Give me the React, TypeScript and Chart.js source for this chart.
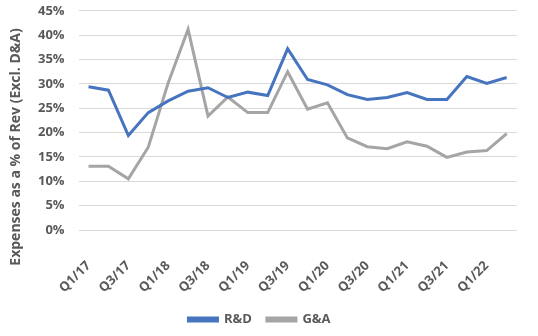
import React, { useEffect, useRef } from "react";
import { Chart, registerables } from "chart.js";

Chart.register(...registerables);

const quarters = [
  "Q1/17", "Q2/17", "Q3/17", "Q4/17",
  "Q1/18", "Q2/18", "Q3/18", "Q4/18",
  "Q1/19", "Q2/19", "Q3/19", "Q4/19",
  "Q1/20", "Q2/20", "Q3/20", "Q4/20",
  "Q1/21", "Q2/21", "Q3/21", "Q4/21",
  "Q1/22", "Q2/22",
];

const rdValues = [
  29.4, 28.7, 19.4, 24.1, 26.5, 28.5, 29.2, 27.2, 28.3, 27.6, 37.2,
  30.9, 29.8, 27.8, 26.8, 27.2, 28.2, 26.8, 26.8, 31.5, 30.1, 31.3,
];

const gaValues = [
  13.1, 13.1, 10.5, 17.0, 30.2, 41.2, 23.4, 27.3, 24.1, 24.1, 32.5,
  24.8, 26.1, 18.9, 17.1, 16.7, 18.1, 17.2, 14.9, 16.0, 16.3, 19.8,
];

const yTicks = [0, 5, 10, 15, 20, 25, 30, 35, 40, 45];
const yTitle = "Expenses as a % of Rev (Excl. D&A)";
const seriesNames = ["R&D", "G&A"];

const FONT = "'Open Sans', sans-serif";
const TEXT = "#595959";

export default function App() {
  const ref = useRef<HTMLCanvasElement | null>(null);

  useEffect(() => {
    document.body.style.margin = "0";
    if (!ref.current) return;
    const titlePlugin = {
      id: "yTitle",
      afterLayout(chart: any) {
        if (chart.legend) {
          chart.legend.left -= 20;
          chart.legend.right -= 20;
        }
      },
      afterDraw(chart: any) {
        const ctx = chart.ctx;
        ctx.save();
        ctx.translate(16, 147);
        ctx.rotate(-Math.PI / 2);
        ctx.textAlign = "center";
        ctx.textBaseline = "middle";
        ctx.font = `700 14px ${FONT}`;
        ctx.fillStyle = TEXT;
        ctx.fillText(yTitle, 0, 0);
        ctx.restore();
      },
    };
    const chart = new Chart(ref.current, {
      type: "line",
      data: {
        labels: quarters,
        datasets: [
          {
            label: seriesNames[0],
            data: rdValues,
            borderColor: "#4674BE",
            backgroundColor: "#4674BE",
            borderWidth: 3,
            pointRadius: 0,
            tension: 0,
          },
          {
            label: seriesNames[1],
            data: gaValues,
            borderColor: "#A5A5A5",
            backgroundColor: "#A5A5A5",
            borderWidth: 3,
            pointRadius: 0,
            tension: 0,
          },
        ],
      },
      options: {
        animation: false,
        responsive: true,
        maintainAspectRatio: false,
        layout: { padding: { left: 35, right: 14, top: 0, bottom: 0 } },
        plugins: {
          tooltip: { enabled: false },
          legend: {
            position: "bottom",
            labels: {
              boxWidth: 29,
              boxHeight: 3,
              padding: 15,
              color: TEXT,
              font: { family: FONT, size: 13, weight: 700 },
            },
          },
        },
        scales: {
          x: {
            offset: true,
            afterFit: (scale: any) => {
              scale.height = 68;
            },
            grid: { display: false },
            border: { display: false },
            ticks: {
              autoSkip: false,
              minRotation: 45,
              maxRotation: 45,
              padding: 20,
              color: TEXT,
              font: { family: FONT, size: 13, weight: 700 },
              callback: (_v: any, i: number) => (i % 2 === 0 ? quarters[i] : ""),
            },
          },
          y: {
            min: 0,
            max: 45,
            afterBuildTicks: (axis: any) => {
              axis.ticks = yTicks.map((v) => ({ value: v }));
            },
            grid: {
              color: "#D9D9D9",
              lineWidth: 1,
              drawTicks: true,
              tickLength: 11,
              tickColor: "rgba(0,0,0,0)",
            },
            border: { display: false },
            ticks: {
              padding: 3,
              color: TEXT,
              font: { family: FONT, size: 13, weight: 700 },
              callback: (v: any) => `${v}%`,
            },
          },
        },
      },
      plugins: [titlePlugin],
    });
    return () => chart.destroy();
  }, []);

  return (
    <div style={{ width: 538, height: 336, position: "relative" }}>
      <canvas ref={ref} />
    </div>
  );
}
